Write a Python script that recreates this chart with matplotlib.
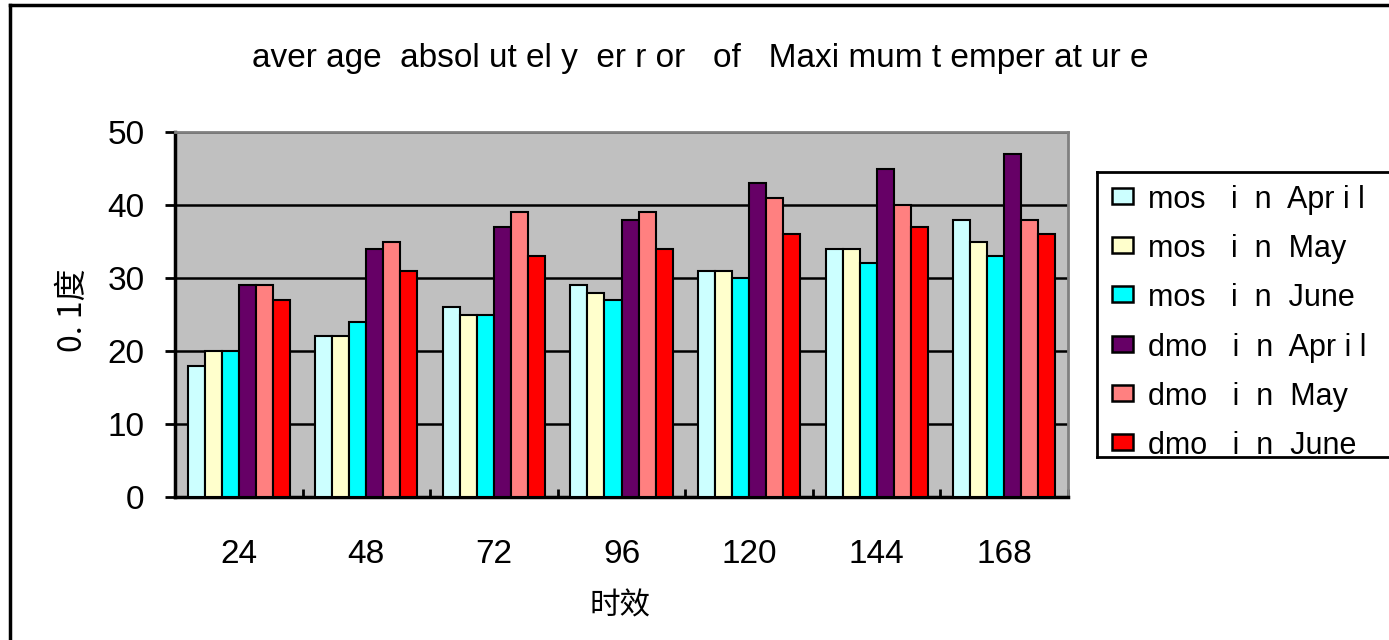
import matplotlib
matplotlib.use("Agg")
import matplotlib.pyplot as plt
import numpy as np
from matplotlib.patches import Rectangle
from matplotlib.lines import Line2D

plt.rcParams['font.family'] = ['Liberation Sans', 'Noto Sans CJK SC', 'DejaVu Sans']

categories = ["24", "48", "72", "96", "120", "144", "168"]
series_names = ["mos   i  n  Apr i l", "mos   i  n  May", "mos   i  n  June",
                "dmo   i  n  Apr i l", "dmo   i  n  May", "dmo   i  n  June"]
mos_april = [18, 22, 26, 29, 31, 34, 38]
mos_may = [20, 22, 25, 28, 31, 34, 35]
mos_june = [20, 24, 25, 27, 30, 32, 33]
dmo_april = [29, 34, 37, 38, 43, 45, 47]
dmo_may = [29, 35, 39, 39, 41, 40, 38]
dmo_june = [27, 31, 33, 34, 36, 37, 36]
series = [mos_april, mos_may, mos_june, dmo_april, dmo_may, dmo_june]
colors = ["#CCFFFF", "#FFFFCC", "#00FFFF", "#660066", "#FF8080", "#FF0000"]
title = "aver age  absol ut el y  er r or   of   Maxi mum t emper at ur e"

W, H = 1389, 640
fig = plt.figure(figsize=(W / 100, H / 100), dpi=100)

def fx(px):
    return px / W

def fy(py):
    return 1 - py / H

# outer border (left and top visible)
fig.add_artist(Line2D([fx(10), fx(10)], [0, fy(5)], color='black', linewidth=2.5))
fig.add_artist(Line2D([fx(10), 1], [fy(5), fy(5)], color='black', linewidth=2.5))

ax = fig.add_axes([fx(175), fy(497), fx(1068 - 175), (497 - 132) / H])
ax.set_facecolor('#C0C0C0')

x = np.arange(len(categories))
n = len(series)
bw = 0.8 / n
for i, (vals, c) in enumerate(zip(series, colors)):
    ax.bar(x - 0.4 + bw * (i + 0.5), vals, width=bw, color=c, edgecolor='black',
           linewidth=1.5, zorder=3)

ax.set_xlim(-0.5, len(categories) - 0.5)
ax.set_ylim(0, 50)
ax.set_yticks([0, 10, 20, 30, 40, 50])
ax.yaxis.grid(True, color='black', linewidth=1.8, zorder=1)
ax.set_axisbelow(True)
ax.set_xticks(x)
ax.set_xticklabels(categories, fontsize=24)
ax.tick_params(axis='x', length=0, pad=30)
ax.set_xticks(np.arange(len(categories) + 1) - 0.5, minor=True)
ax.tick_params(axis='x', which='minor', direction='in', length=6, width=2)
ax.tick_params(axis='y', labelsize=24, length=7, width=2, direction='out', pad=15)
for s in ['top', 'right']:
    ax.spines[s].set_color('#808080')
    ax.spines[s].set_linewidth(2)
for s in ['left', 'bottom']:
    ax.spines[s].set_color('black')
    ax.spines[s].set_linewidth(2.5)

fig.text(fx(620), fy(606), "时效", fontsize=22, ha='center', va='center',
         family=['Noto Sans CJK SC', 'DejaVu Sans'])
fig.text(fx(73), fy(310), "0. 1度", rotation=90, fontsize=23, ha='center', va='center',
         family=['Noto Sans CJK SC', 'DejaVu Sans'])

fig.text(fx(700), fy(58), title, fontsize=24, ha='center', va='center')

# legend box drawn from the series lists
lx0, lx1, ly0, ly1 = 1097, W + 30, 172, 457
lax = fig.add_axes([fx(lx0), fy(ly1), (lx1 - lx0) / W, (ly1 - ly0) / H])
lax.set_xlim(lx0, lx1)
lax.set_ylim(ly1, ly0)
lax.set_xticks([])
lax.set_yticks([])
for s in lax.spines.values():
    s.set_linewidth(2)
    s.set_color('black')
for i, (name, c) in enumerate(zip(series_names, colors)):
    base = 208 + i * 49.2
    lax.add_patch(Rectangle((1112, base - 20), 21, 16, facecolor=c,
                            edgecolor='black', linewidth=1.8, clip_on=True))
    lax.text(1148, base, name, fontsize=22, ha='left', va='baseline', clip_on=True)

fig.savefig("out.png", dpi=100)
